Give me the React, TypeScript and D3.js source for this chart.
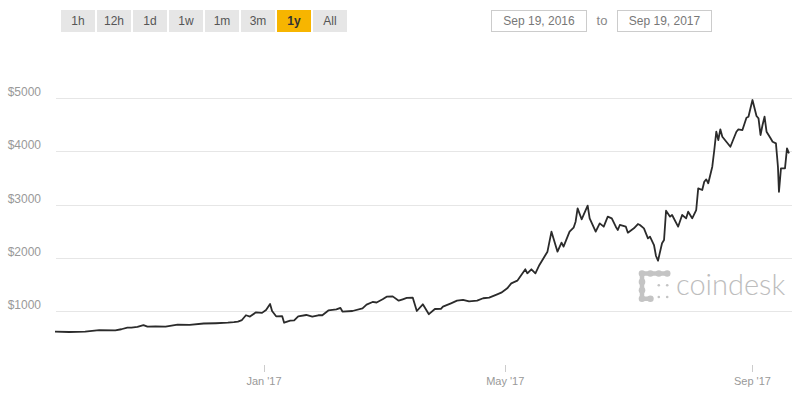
import React from "react";
import * as d3 from "d3";

const dates: string[] = [
  "2016-09-19","2016-09-26","2016-10-04","2016-10-11","2016-10-19","2016-10-22","2016-10-25","2016-10-27","2016-10-30",
  "2016-11-02","2016-11-04","2016-11-08","2016-11-13","2016-11-19","2016-11-25","2016-12-02","2016-12-08","2016-12-14",
  "2016-12-17","2016-12-19","2016-12-21","2016-12-23","2016-12-25","2016-12-28","2016-12-31","2017-01-02","2017-01-04",
  "2017-01-05","2017-01-07","2017-01-10","2017-01-11","2017-01-14","2017-01-16","2017-01-18","2017-01-22","2017-01-25",
  "2017-01-28","2017-01-30","2017-02-02","2017-02-06","2017-02-08","2017-02-09","2017-02-14","2017-02-19","2017-02-21",
  "2017-02-24","2017-02-26","2017-03-01","2017-03-03","2017-03-06","2017-03-09","2017-03-11","2017-03-13","2017-03-16",
  "2017-03-18","2017-03-21","2017-03-24","2017-03-27","2017-03-30","2017-03-31","2017-04-04","2017-04-07","2017-04-10",
  "2017-04-13","2017-04-17","2017-04-20","2017-04-23","2017-04-27","2017-04-29","2017-05-02","2017-05-04","2017-05-07",
  "2017-05-11","2017-05-12","2017-05-14","2017-05-16","2017-05-18","2017-05-21","2017-05-22","2017-05-24","2017-05-27",
  "2017-05-29","2017-05-30","2017-06-02","2017-06-04","2017-06-05","2017-06-06","2017-06-08","2017-06-11","2017-06-12",
  "2017-06-15","2017-06-17","2017-06-19","2017-06-21","2017-06-23","2017-06-25","2017-06-26","2017-06-27","2017-06-30",
  "2017-07-01","2017-07-04","2017-07-06","2017-07-07","2017-07-09","2017-07-11","2017-07-12","2017-07-14","2017-07-15",
  "2017-07-16","2017-07-18","2017-07-19","2017-07-20","2017-07-22","2017-07-23","2017-07-26","2017-07-28","2017-07-30",
  "2017-07-31","2017-08-02","2017-08-04","2017-08-05","2017-08-07","2017-08-08","2017-08-09","2017-08-10","2017-08-12",
  "2017-08-13","2017-08-14","2017-08-15","2017-08-16","2017-08-17","2017-08-19","2017-08-21","2017-08-22","2017-08-24",
  "2017-08-25","2017-08-27","2017-08-29","2017-08-30","2017-08-31","2017-09-01","2017-09-03","2017-09-04","2017-09-05",
  "2017-09-06","2017-09-07","2017-09-08","2017-09-10","2017-09-11","2017-09-12T16","2017-09-13T04","2017-09-13T16",
  "2017-09-14T04","2017-09-15T04","2017-09-17T04","2017-09-18T04","2017-09-19T04",
];

const prices: number[] = [
  611,605,612,640,636,657,686,688,700,
  735,705,710,705,745,740,765,770,780,
  790,800,830,920,895,975,965,1020,1131,
  1000,900,905,780,818,825,900,925,893,
  920,920,1010,1030,1060,990,1000,1050,1120,
  1170,1160,1220,1270,1275,1194,1220,1245,1250,
  1000,1126,940,1038,1040,1081,1144,1194,1210,
  1180,1195,1240,1250,1313,1344,1426,1520,1570,
  1784,1709,1784,1709,1865,2053,2115,2491,2115,
  2284,2209,2491,2566,2679,2930,2724,2980,2742,
  2491,2648,2585,2773,2742,2585,2523,2617,2585,
  2472,2554,2635,2617,2554,2366,2397,2240,2034,
  1946,2273,2335,2885,2773,2805,2585,2805,2742,
  2866,2742,2898,3306,3274,3430,3475,3400,3712,
  4026,4370,4214,4415,4276,4182,4088,4182,4370,
  4415,4402,4633,4652,4810,4966,4665,4622,4308,
  4496,4652,4370,4246,4182,4152,3932,3712,
  3240,3682,3682,4058,3964,
];

const yTicks: number[] = [1000, 2000, 3000, 4000, 5000];
const ranges: string[] = ["1h", "12h", "1d", "1w", "1m", "3m", "1y", "All"];
const activeRange = "1y";
const fromLabel = "Sep 19, 2016";
const toLabel = "Sep 19, 2017";

const parseDay = d3.utcParse("%Y-%m-%d");
const parseHour = d3.utcParse("%Y-%m-%dT%H");
const parse = (s: string) => (s.length > 10 ? parseHour(s) : parseDay(s)) as Date;

export default function App() {
  const W = 800, H = 400;
  const data = dates.map((d, i) => ({ date: parse(d), value: prices[i] }));
  const x = d3.scaleUtc().domain([data[0].date, data[data.length - 1].date]).range([55, 789]);
  const y = d3.scaleLinear().domain([0, 5000]).range([364.2, 98.2]);
  const line = d3.line<{ date: Date; value: number }>().x((d) => x(d.date)).y((d) => y(d.value)).curve(d3.curveLinear);
  const xTicks = x.ticks(d3.utcMonth.every(4) as any);
  const fmt = d3.utcFormat("%b '%y");
  const font = "'Liberation Sans', Arial, sans-serif";

  const s = 8.4, ox = 642, oy = 273.5;
  const big: [number, number][] = [[0,0],[1,0],[2,0],[3,0],[0,1],[0,2],[0,3],[1,3]];
  const small: [number, number][] = [[2,1.4],[3,1.4],[2,2.8],[3,2.8]];

  return (
    <svg width={W} height={H} style={{ position: "absolute", left: 0, top: 0, background: "#fff" }} fontFamily={font}>
      {ranges.map((r, i) => {
        const bx = 61 + i * 36;
        const active = r === activeRange;
        return (
          <g key={r}>
            <rect x={bx} y={10} width={34} height={22} fill={active ? "#f7b500" : "#e6e6e6"} />
            <text x={bx + 17} y={25} textAnchor="middle" fontSize={12} fill={active ? "#333" : "#555"} fontWeight={active ? "bold" : "normal"}>{r}</text>
          </g>
        );
      })}
      <rect x={491.5} y={10.5} width={95} height={21} fill="#fff" stroke="#cccccc" />
      <text x={539} y={25} textAnchor="middle" fontSize={12} fill="#777">{fromLabel}</text>
      <text x={602} y={25} textAnchor="middle" fontSize={13} fill="#888">to</text>
      <rect x={617.5} y={10.5} width={94} height={21} fill="#fff" stroke="#cccccc" />
      <text x={664.5} y={25} textAnchor="middle" fontSize={12} fill="#777">{toLabel}</text>

      {yTicks.map((t) => (
        <g key={t}>
          <line x1={56} x2={792} y1={Math.round(y(t)) + 0.5} y2={Math.round(y(t)) + 0.5} stroke="#e6e6e6" />
          <text x={41} y={y(t) - 2} textAnchor="end" fontSize={12} fill="#999">{"$" + t}</text>
        </g>
      ))}

      <g fill="#c4c4c4" stroke="#c4c4c4">
        <line x1={ox} y1={oy} x2={ox + 3 * s} y2={oy} strokeWidth={4.5} strokeLinecap="round" />
        <line x1={ox} y1={oy} x2={ox} y2={oy + 3 * s} strokeWidth={4.5} strokeLinecap="round" />
        <line x1={ox} y1={oy + 3 * s} x2={ox + s} y2={oy + 3 * s} strokeWidth={4.5} strokeLinecap="round" />
        {big.map(([c, r], i) => <circle key={"b" + i} cx={ox + c * s} cy={oy + r * s} r={3.3} stroke="none" />)}
        {small.map(([c, r], i) => <circle key={"s" + i} cx={ox + c * s} cy={oy + r * s} r={1.3} stroke="none" />)}
      </g>
      <text x={676} y={295} fontSize={29} fill="#bdbdbd" fontFamily="Lato, 'Open Sans', sans-serif" fontWeight={300}>coindesk</text>

      {xTicks.map((t) => (
        <g key={t.toISOString()}>
          <line x1={Math.round(x(t)) + 0.5} x2={Math.round(x(t)) + 0.5} y1={365} y2={372} stroke="#cccccc" />
          <text x={x(t)} y={385} textAnchor="middle" fontSize={11} fill="#999">{fmt(t)}</text>
        </g>
      ))}

      <path d={line(data) || ""} fill="none" stroke="#2b2b2b" strokeWidth={1.8} strokeLinejoin="round" />
    </svg>
  );
}
